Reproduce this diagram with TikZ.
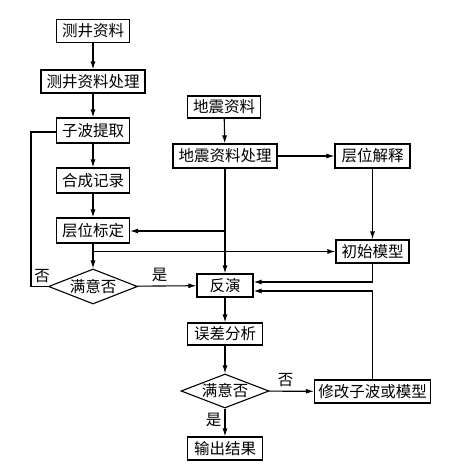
\documentclass[tikz,border=0pt]{standalone}
\usepackage{fontspec}
\setmainfont{Noto Sans CJK SC}
\usetikzlibrary{shapes.geometric,arrows.meta,calc}
\begin{document}
\begin{tikzpicture}[x=1bp,y=-1bp,
  every node/.style={font=\fontsize{15.5bp}{17bp}\selectfont},
  box/.style={draw,line width=1.2bp,inner sep=0pt,minimum height=23bp},
  dia/.style={draw,diamond,aspect=2.55,line width=1.1bp,inner sep=0pt,minimum width=89bp,minimum height=35bp},
  arr/.style={line width=1.1bp,-{Latex[length=8bp,width=5bp]}},
  ln/.style={line width=1.1bp},
  lbl/.style={inner sep=0pt}]
\useasboundingbox (0,0) rectangle (453,468);
\node[box,minimum width=73bp] (A) at (93,31) {测井资料};
\node[box,minimum width=104bp] (B) at (93,81.5) {测井资料处理};
\node[box,minimum width=73bp,minimum height=25bp] (C) at (93,130.5) {子波提取};
\node[box,minimum width=73bp,minimum height=25bp] (D) at (93,180.5) {合成记录};
\node[box,minimum width=73bp,minimum height=25bp] (E) at (93,230.5) {层位标定};
\node[box,minimum width=73bp,minimum height=22bp] (F) at (224,107) {地震资料};
\node[box,minimum width=104bp,minimum height=24bp] (G) at (225,156) {地震资料处理};
\node[box,minimum width=75bp,minimum height=24bp] (H) at (372.5,156) {层位解释};
\node[box,minimum width=73bp] (I) at (372.5,251.5) {初始模型};
\node[box,minimum width=56bp] (J) at (225,285.5) {反演};
\node[box,minimum width=75bp,minimum height=22bp] (K) at (225,334) {误差分析};
\node[dia] (L) at (93,286.5) {满意否};
\node[dia,minimum width=88bp,minimum height=34bp] (M) at (225,391) {满意否};
\node[box,minimum width=116bp] (N) at (372.5,391.5) {修改子波或模型};
\node[box,minimum width=75bp] (O) at (225,448.5) {输出结果};
% left column
\draw[arr] (A) -- (B);
\draw[arr] (B) -- (C);
\draw[arr] (C) -- (D);
\draw[arr] (D) -- (E);
\draw[arr] (E) -- (L);
\coordinate (jE) at (93,251.5);
\draw[arr] (jE) -- (I.west);
% seismic column
\draw[arr] (F) -- (G);
\draw[arr] (G) -- (H);
\draw[arr] (G) -- (J);
\coordinate (jG) at (225,231);
\draw[arr] (jG) -- (jG -| E.east);
\draw[arr] (H) -- (I);
% decision 1
\draw[arr] (L) -- node[lbl,above=4bp,pos=0.38] {是} (J);
\coordinate (lc1) at (31,286.5);
\coordinate (lc2) at (31,132);
\draw[ln] (L.west) -- (lc1) -- (lc2) -- (lc2 -| C.west);
\node[lbl] (no1) at (42,276) {否};
% feedback into inversion
\coordinate (r1) at (372.5,282);
\draw[arr] (I) -- (r1) -- (r1 -| J.east);
\coordinate (r2) at (372.5,291);
\draw[arr] (N) -- (r2) -- (r2 -| J.east);
% bottom
\draw[arr] (J) -- (K);
\draw[arr] (K) -- (M);
\draw[arr] (M) -- node[lbl,left=3bp,pos=0.4] {是} (O);
\draw[arr] (M) -- node[lbl,above=4bp,pos=0.37] {否} (N);
\end{tikzpicture}
\end{document}
